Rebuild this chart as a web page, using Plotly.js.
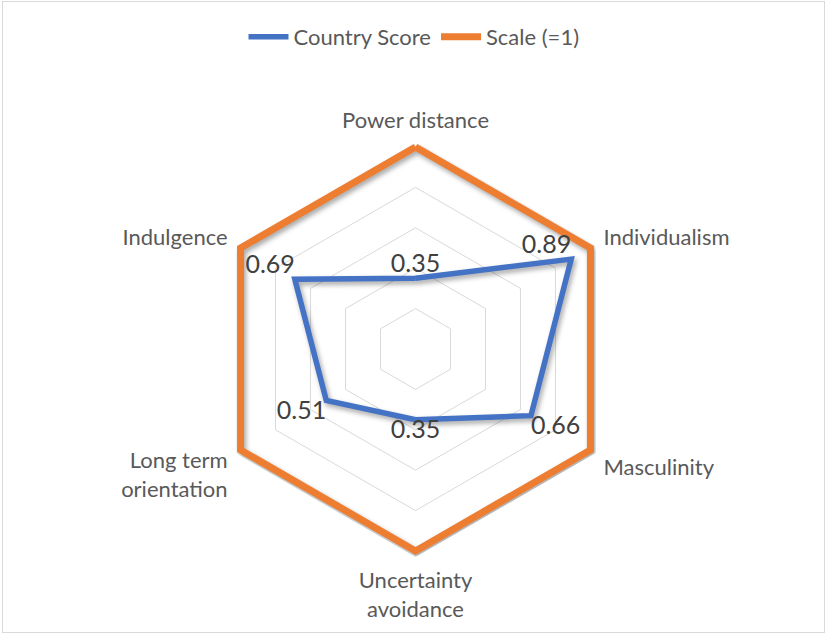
<!DOCTYPE html>
<html>
<head>
<meta charset="utf-8">
<script src="https://cdn.plot.ly/plotly-3.0.1.min.js"></script>
<style>
  html, body { margin: 0; padding: 0; background: #ffffff; }
  #chart { width: 828px; height: 637px; position: relative; }
  #frame { position: absolute; left: 2px; top: 1px; width: 823px; height: 632px;
           border: 1px solid #d9d9d9; box-sizing: border-box; pointer-events: none; }
  .scatterlayer .trace path.js-line { filter: drop-shadow(2px 3px 2.5px rgba(0,0,0,0.35)); }
</style>
</head>
<body>
<div id="chart"></div>
<div id="frame"></div>
<script>
// ---- data ----
const categories = ['Power distance', 'Individualism', 'Masculinity', 'Uncertainty<br>avoidance', 'Long term<br>orientation', 'Indulgence'];
const countryScore = [0.35, 0.89, 0.66, 0.35, 0.51, 0.69];
const scaleValues = [1, 1, 1, 1, 1, 1];
const seriesNames = ['Country Score', 'Scale (=1)'];
const gridTicks = [0.2, 0.4, 0.6, 0.8, 1.0];

// ---- styling ----
const labelPositions = ['top center', 'top left', 'bottom right', 'bottom center', 'bottom left', 'top left'];
const closeLoop = a => a.concat([a[0]]);
const radialMax = 1.03;           // a little headroom so the outer series line is not clipped
const plotRadiusPx = 202 * radialMax;
const cx = 415.5, cy = 349, W = 828, H = 637;

const traces = [
  {
    type: 'scatterpolar',
    name: seriesNames[1],
    r: closeLoop(scaleValues),
    theta: closeLoop(categories),
    mode: 'lines',
    line: { color: '#ed7d31', width: 7 },
    hoverinfo: 'skip',
    cliponaxis: false
  },
  {
    type: 'scatterpolar',
    name: seriesNames[0],
    r: closeLoop(countryScore),
    theta: closeLoop(categories),
    mode: 'lines+text',
    text: closeLoop(countryScore.map(v => v.toFixed(2))).map((t, i) => i < countryScore.length ? t : ''),
    textposition: closeLoop(labelPositions),
    textfont: { family: 'Lato, sans-serif', size: 25, color: '#404040' },
    line: { color: '#4472c4', width: 5.5 },
    hoverinfo: 'skip',
    cliponaxis: false
  }
];

const layout = {
  width: W,
  height: H,
  margin: { l: 0, r: 0, t: 0, b: 0 },
  paper_bgcolor: '#ffffff',
  font: { family: 'Lato, sans-serif', color: '#595959', size: 22 },
  showlegend: true,
  legend: {
    orientation: 'h',
    traceorder: 'reversed',
    x: 0.5, xanchor: 'center',
    y: 0.975, yanchor: 'top',
    font: { family: 'Lato, sans-serif', size: 22, color: '#595959' },
    itemwidth: 40
  },
  polar: {
    domain: {
      x: [(cx - plotRadiusPx) / W, (cx + plotRadiusPx) / W],
      y: [1 - (cy + plotRadiusPx) / H, 1 - (cy - plotRadiusPx) / H]
    },
    gridshape: 'linear',
    bgcolor: 'rgba(0,0,0,0)',
    radialaxis: {
      range: [0, radialMax],
      tickmode: 'array',
      tickvals: gridTicks,
      showticklabels: false,
      ticks: '',
      showline: false,
      gridcolor: '#d9d9d9',
      gridwidth: 1
    },
    angularaxis: {
      type: 'category',
      direction: 'clockwise',
      rotation: 90,
      showgrid: false,
      showline: false,
      ticks: 'outside',
      ticklen: 4,
      tickcolor: 'rgba(0,0,0,0)',
      tickfont: { family: 'Lato, sans-serif', size: 22, color: '#595959' }
    }
  }
};

Plotly.newPlot('chart', traces, layout, { displayModeBar: false, staticPlot: true });
</script>
</body>
</html>
